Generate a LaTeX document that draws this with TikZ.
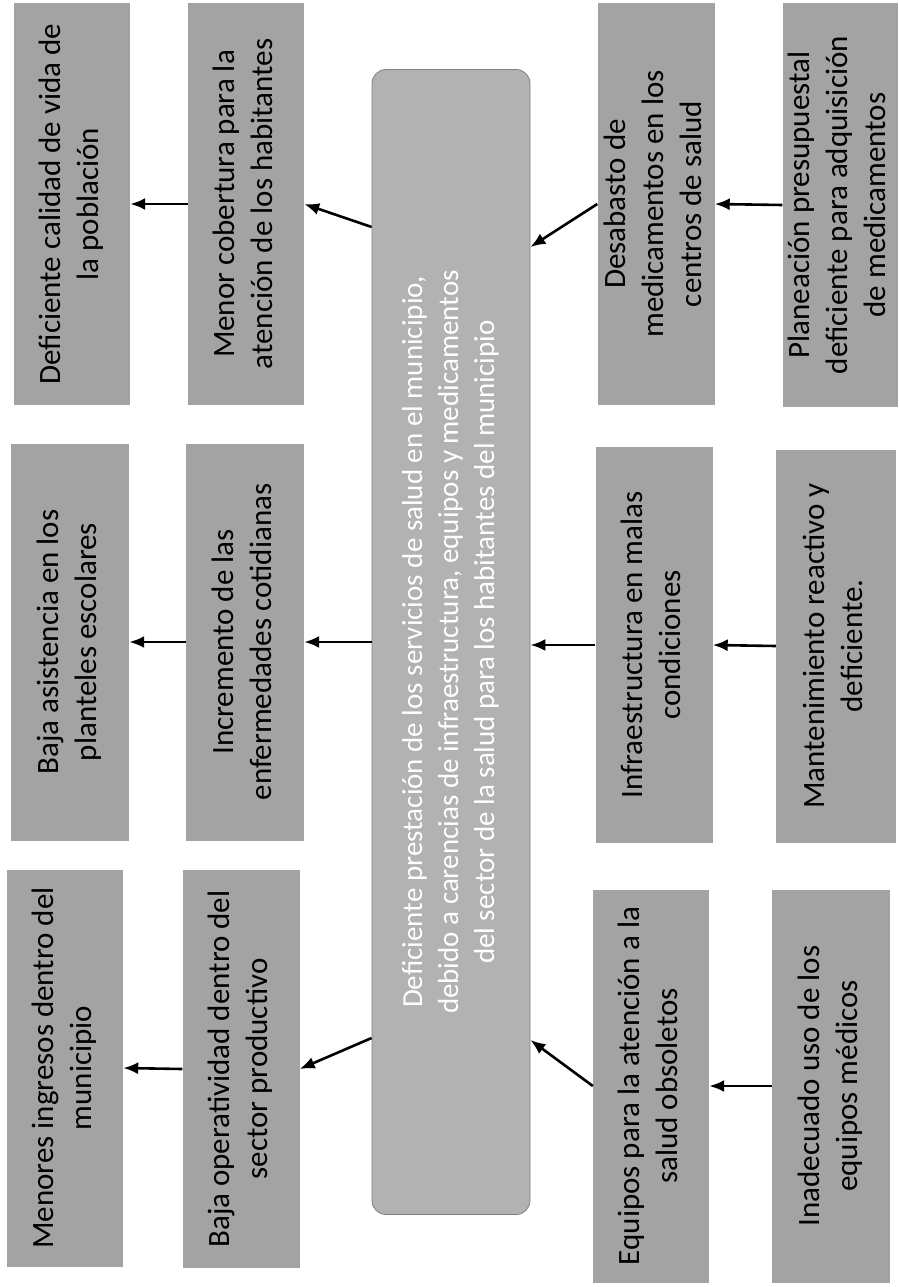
\documentclass[tikz,border=0pt]{standalone}
\usepackage{fontspec}
\setmainfont{Carlito}
\usetikzlibrary{arrows.meta}
\newcommand{\vtxt}[1]{\rotatebox{90}{\begin{tabular}{@{}c@{}}#1\end{tabular}}}
\tikzset{
  box/.style={fill=black!36, inner sep=0pt, text=black,
              font=\fontsize{31}{38}\selectfont},
  core/.style={fill=black!30, draw=black!50, line width=0.8pt, rounded corners=14pt,
               inner sep=0pt, text=white, font=\fontsize{29}{36}\selectfont},
  arr/.style={-{Latex[length=15pt,width=12pt]}, line width=2.6pt, black},
}
\begin{document}
\begin{tikzpicture}[x=1pt,y=-1pt]
\useasboundingbox[fill=white] (0,0) rectangle (898,1287);

% centre problem
\node[core, minimum width=158pt, minimum height=1145pt] (C) at (451,642)
  {\vtxt{Deficiente prestación de los servicios de salud en el municipio,\\
         debido a carencias de infraestructura, equipos y medicamentos\\
         del sector de la salud para los habitantes del municipio}};

% row 1
\node[box, minimum width=116pt, minimum height=402pt] (E1) at (72,204)
  {\vtxt{Deficiente calidad de vida de\\la población}};
\node[box, minimum width=116pt, minimum height=402pt] (M1) at (246,204)
  {\vtxt{Menor cobertura para la\\atención de los habitantes}};
\node[box, minimum width=117pt, minimum height=402pt] (K1) at (656,204)
  {\vtxt{Desabasto de\\medicamentos en los\\centros de salud}};
\node[box, minimum width=115pt, minimum height=404pt] (R1) at (840,205)
  {\vtxt{Planeación presupuestal\\deficiente para adquisición\\de medicamentos}};

% row 2
\node[box, minimum width=118pt, minimum height=397pt] (E2) at (70,642)
  {\vtxt{Baja asistencia en los\\planteles escolares}};
\node[box, minimum width=118pt, minimum height=397pt] (M2) at (245,642)
  {\vtxt{Incremento de las\\enfermedades cotidianas}};
\node[box, minimum width=117pt, minimum height=396pt] (K2) at (654,645)
  {\vtxt{Infraestructura en malas\\condiciones}};
\node[box, minimum width=120pt, minimum height=393pt] (R2) at (836,646)
  {\vtxt{Mantenimiento reactivo y\\deficiente.}};

% row 3
\node[box, minimum width=116pt, minimum height=397pt] (E3) at (65,1068)
  {\vtxt{Menores ingresos dentro del\\municipio}};
\node[box, minimum width=117pt, minimum height=398pt] (M3) at (241,1069)
  {\vtxt{Baja operatividad dentro del\\sector productivo}};
\node[box, minimum width=116pt, minimum height=393pt] (K3) at (651,1086)
  {\vtxt{Equipos para la atención a la\\salud obsoletos}};
\node[box, minimum width=118pt, minimum height=393pt] (R3) at (831,1086)
  {\vtxt{Inadecuado uso de los\\equipos médicos}};

% connectors row 1
\draw[arr] (R1.west) -- (K1.east);
\draw[arr] (K1.west) -- ([yshift=-43pt]C.east |- K1.west);
\draw[arr] ([yshift=-23pt]C.west |- M1.east) -- (M1.east);
\draw[arr] (M1.west) -- (E1.east);

% connectors row 2
\draw[arr] (R2.west) -- (K2.east);
\draw[arr] (K2.west) -- (C.east |- K2.west);
\draw[arr] (C.west |- M2.east) -- (M2.east);
\draw[arr] (M2.west) -- (E2.east);

% connectors row 3
\draw[arr] (R3.west) -- (K3.east);
\draw[arr] (K3.west) -- ([yshift=46pt]C.east |- K3.west);
\draw[arr] ([yshift=31pt]C.west |- M3.east) -- (M3.east);
\draw[arr] (M3.west) -- (E3.east);
\end{tikzpicture}
\end{document}
